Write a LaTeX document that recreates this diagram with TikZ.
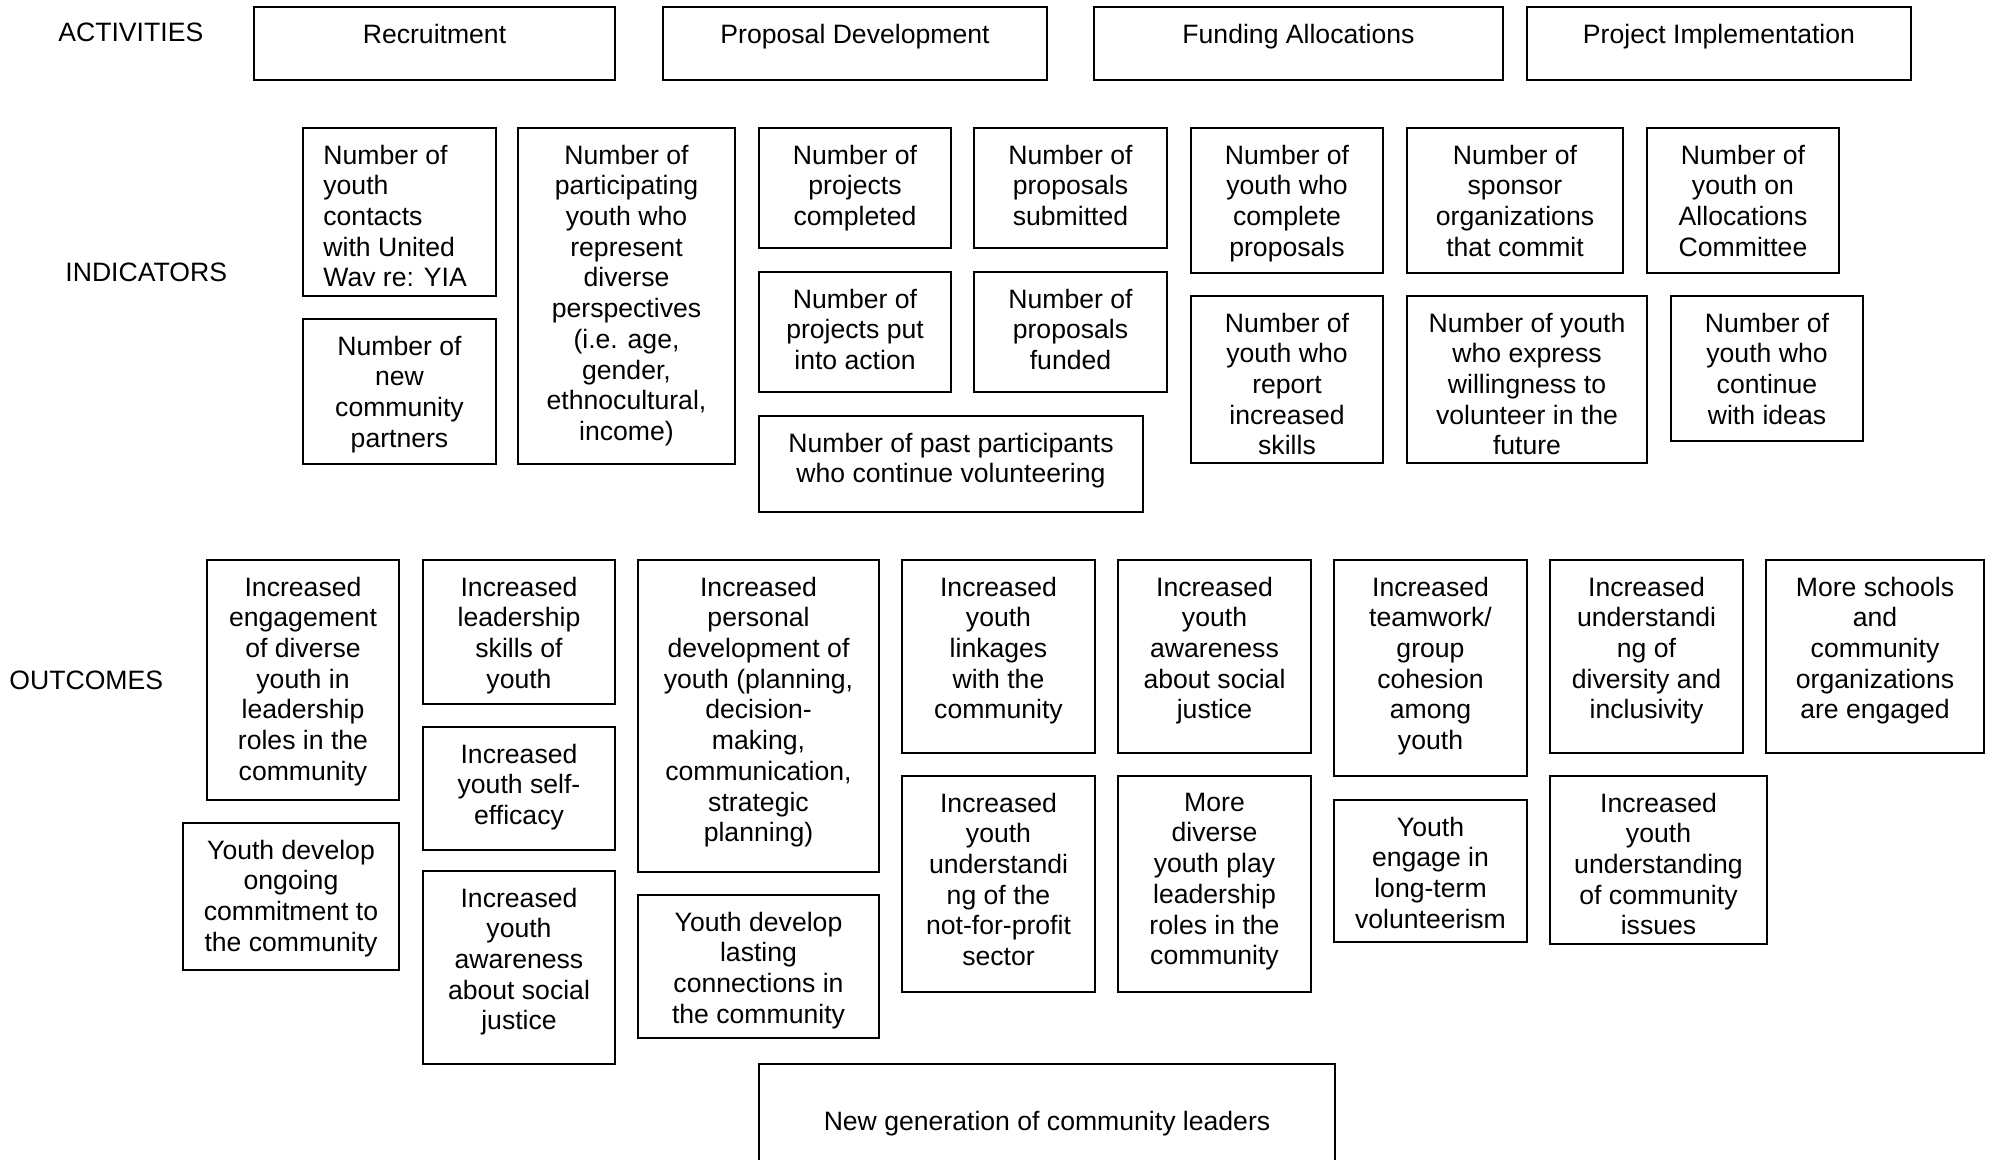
\documentclass[tikz,border=0pt]{standalone}
\usepackage{fontspec}
\setmainfont{Liberation Sans}
\usetikzlibrary{calc}
\tikzset{
 boxshape/.style={draw, line width=0.9pt, inner sep=0pt, outer sep=0pt},
 txt/.style={inner sep=0pt, font=\fontsize{13.3}{15.35}\selectfont},
 lbl/.style={inner sep=0pt, anchor=north west, font=\fontsize{13.3}{15.35}\selectfont},
}
\newcommand\bxshape[5]{%
 \node[boxshape, minimum width={(#4-#2)*0.5pt}, minimum height={(#5-#3)*0.5pt}] (#1) at ({(#2+#4)/2},{(#3+#5)/2}) {};}
\newcommand\bx[6]{%
 \bxshape{#1}{#2}{#3}{#4}{#5}%
 \node[txt, align=center, anchor=north] (#1-t) at ($(#1.north)+(0,16.5)$) {#6};}
\begin{document}
\begin{tikzpicture}[x=0.5pt,y=-0.5pt]
\useasboundingbox (0,0) rectangle (1992,1160);
\clip (0,0) rectangle (1992,1160);
% labels
\node[lbl] (lact) at (58,23) {ACTIVITIES};
\node[lbl] (lind) at (65,263) {INDICATORS};
\node[lbl] (lout) at (9,671) {OUTCOMES};
% activities
\bx{a1}{254}{7}{615}{80}{Recruitment}
\bx{a2}{663}{7}{1047}{80}{Proposal Development}
\bx{a3}{1094}{7}{1503}{80}{Funding Allocations}
\bx{a4}{1527}{7}{1911}{80}{Project Implementation}
% indicators
\bxshape{i1}{303}{128}{496}{296}
\node[txt, align=left, anchor=north west] (i1-t) at ($(i1.north west)+(20,16.5)$) {Number of\\youth\\contacts\\with United\\Wav re: YIA};
\bx{i2}{303}{319}{496}{464}{Number of\\new\\community\\partners}
\bx{i3}{518}{128}{735}{464}{Number of\\participating\\youth who\\represent\\diverse\\perspectives\\(i.e. age,\\gender,\\ethnocultural,\\income)}
\bx{i4}{759}{128}{951}{248}{Number of\\projects\\completed}
\bx{i5}{759}{272}{951}{392}{Number of\\projects put\\into action}
\bx{i6}{759}{416}{1143}{512}{Number of past participants\\who continue volunteering}
\bx{i7}{974}{128}{1167}{248}{Number of\\proposals\\submitted}
\bx{i8}{974}{272}{1167}{392}{Number of\\proposals\\funded}
\bx{i9}{1191}{128}{1383}{273}{Number of\\youth who\\complete\\proposals}
\bx{i10}{1407}{128}{1623}{273}{Number of\\sponsor\\organizations\\that commit}
\bx{i11}{1647}{128}{1839}{273}{Number of\\youth on\\Allocations\\Committee}
\bx{i12}{1191}{296}{1383}{463}{Number of\\youth who\\report\\increased\\skills}
\bx{i13}{1407}{296}{1647}{463}{Number of youth\\who express\\willingness to\\volunteer in the\\future}
\bx{i14}{1671}{296}{1863}{441}{Number of\\youth who\\continue\\with ideas}
% outcomes
\bx{o1}{207}{560}{399}{800}{Increased\\engagement\\of diverse\\youth in\\leadership\\roles in the\\community}
\bx{o2}{183}{823}{399}{970}{Youth develop\\ongoing\\commitment to\\the community}
\bx{o3}{423}{560}{615}{704}{Increased\\leadership\\skills of\\youth}
\bx{o4}{423}{727}{615}{850}{Increased\\youth self-\\efficacy}
\bx{o5}{423}{871}{615}{1064}{Increased\\youth\\awareness\\about social\\justice}
\bx{o6}{638}{560}{879}{872}{Increased\\personal\\development of\\youth (planning,\\decision-\\making,\\communication,\\strategic\\planning)}
\bx{o7}{638}{895}{879}{1038}{Youth develop\\lasting\\connections in\\the community}
\bxshape{o8}{759}{1064}{1335}{1200}
\node[txt, anchor=north] (o8-t) at ($(o8.north)+(0,47)$) {New generation of community leaders};
\bx{o9}{902}{560}{1095}{753}{Increased\\youth\\linkages\\with the\\community}
\bx{o10}{902}{776}{1095}{992}{Increased\\youth\\understandi\\ng of the\\not-for-profit\\sector}
\bx{o11}{1118}{560}{1311}{753}{Increased\\youth\\awareness\\about social\\justice}
\bx{o12}{1118}{776}{1311}{992}{More\\diverse\\youth play\\leadership\\roles in the\\community}
\bx{o13}{1334}{560}{1527}{776}{Increased\\teamwork/\\group\\cohesion\\among\\youth}
\bx{o14}{1334}{800}{1527}{942}{Youth\\engage in\\long-term\\volunteerism}
\bx{o15}{1550}{560}{1743}{753}{Increased\\understandi\\ng of\\diversity and\\inclusivity}
\bx{o16}{1550}{776}{1767}{944}{Increased\\youth\\understanding\\of community\\issues}
\bx{o17}{1766}{560}{1984}{753}{More schools\\and\\community\\organizations\\are engaged}
\end{tikzpicture}
\end{document}
